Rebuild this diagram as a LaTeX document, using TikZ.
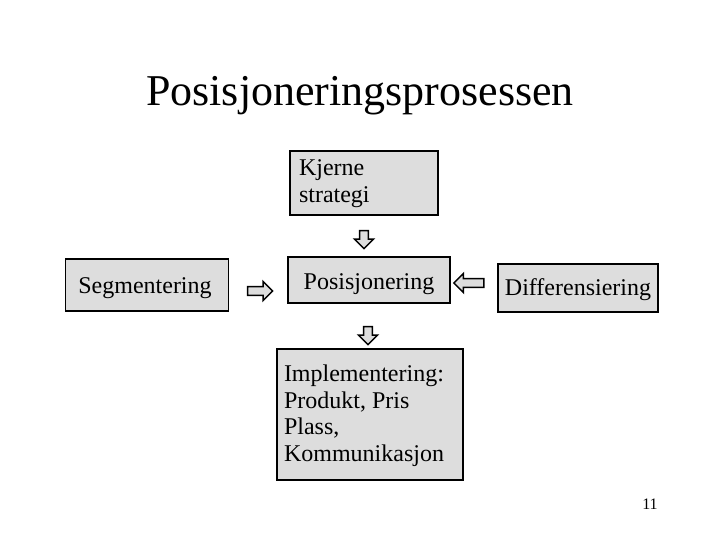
\documentclass[tikz,border=0pt]{standalone}
\usepackage{fontspec}
\setmainfont{Liberation Serif}
\definecolor{boxgray}{HTML}{DDDDDD}
\usetikzlibrary{shapes.arrows, positioning}
% text whose baseline sits #1 above the node centre
\newcommand{\atbase}[2]{\raisebox{#1}[0pt][0pt]{#2}}
\tikzset{
  box/.style={
    draw=black, fill=boxgray, line width=1.5pt,
    font=\fontsize{24}{27}\selectfont, inner sep=0pt
  },
  barrow/.style={
    single arrow, draw=black, fill=boxgray, line width=1.5pt,
    minimum width=19pt, single arrow head extend=5pt,
    single arrow tip angle=90, minimum height=#1, inner sep=3.5pt
  },
  barrow/.default=18pt,
}

\begin{document}
\begin{tikzpicture}[x=1pt, y=-1pt]
  \useasboundingbox (0,0) rectangle (720,540);

  % Title
  \node[font=\fontsize{44}{50}\selectfont] (title) at (360,96) {Posisjoneringsprosessen};

  % Boxes
  \node[box, minimum width=148pt, minimum height=64pt] (core) at (364,183)
    {\atbase{7pt}{\parbox[t]{130pt}{Kjerne\\strategi}}};
  \node[box, minimum width=163pt, minimum height=52pt] (seg) at (147,285)
    {\atbase{-8pt}{Segmentering\hspace{4pt}}};
  \node[box, minimum width=162pt, minimum height=46pt] (pos) at (369,280)
    {\atbase{-9pt}{Posisjonering}};
  \node[box, minimum width=160pt, minimum height=48pt] (diff) at (578,288)
    {\atbase{-7pt}{Differensiering}};
  \node[box, minimum width=186pt, minimum height=131pt,
        font=\fontsize{24}{26.7}\selectfont] (impl) at (370,414.5)
    {\atbase{33pt}{\parbox[t]{172pt}{Implementering:\\Produkt, Pris\\Plass,\\Kommunikasjon}}};

  % Block arrows
  \node[barrow, shape border rotate=270] (a1) at (364,237.5) {};
  \node[barrow=25pt] (a2) at (258,291) {};
  \node[barrow=30pt, shape border rotate=180] (a3) at (471,283) {};
  \node[barrow, shape border rotate=270] (a4) at (368,333.5) {};

  % Page number
  \node[font=\fontsize{16}{18}\selectfont] (pnum) at (650,504) {11};
\end{tikzpicture}
\end{document}
